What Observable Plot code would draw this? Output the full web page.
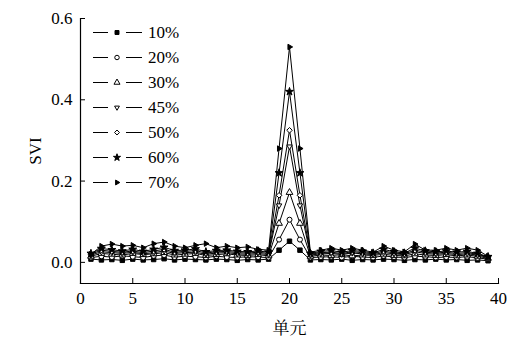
<!DOCTYPE html>
<html><head><meta charset="utf-8">
<script src="https://cdn.jsdelivr.net/npm/d3@7"></script>
<script src="https://cdn.jsdelivr.net/npm/@observablehq/plot@0.6"></script>
<style>
body{margin:0;background:#fff}
#chart{position:relative;width:507px;height:341px}
</style>
</head><body><div id="chart"></div>
<script>
const units = [1,2,3,4,5,6,7,8,9,10,11,12,13,14,15,16,17,18,19,20,21,22,23,24,25,26,27,28,29,30,31,32,33,34,35,36,37,38,39];
const seriesLabels = ["10%","20%","30%","45%","50%","60%","70%"];
const s10 = [0.008,0.006,0.007,0.005,0.008,0.006,0.007,0.009,0.006,0.008,0.007,0.006,0.008,0.007,0.005,0.007,0.006,0.008,0.030,0.052,0.030,0.006,0.007,0.006,0.008,0.005,0.007,0.006,0.008,0.007,0.005,0.007,0.006,0.008,0.006,0.007,0.005,0.006,0.004];
const s20 = [0.012,0.015,0.013,0.016,0.014,0.012,0.016,0.018,0.013,0.015,0.014,0.012,0.015,0.013,0.012,0.014,0.013,0.012,0.056,0.105,0.056,0.012,0.013,0.014,0.012,0.015,0.013,0.012,0.016,0.013,0.012,0.015,0.014,0.012,0.013,0.012,0.014,0.011,0.008];
const s30 = [0.015,0.022,0.020,0.018,0.022,0.019,0.021,0.024,0.018,0.020,0.022,0.017,0.019,0.021,0.018,0.017,0.019,0.016,0.096,0.172,0.096,0.015,0.018,0.017,0.019,0.016,0.018,0.017,0.020,0.017,0.016,0.021,0.018,0.017,0.019,0.016,0.018,0.015,0.010];
const s45 = [0.018,0.026,0.024,0.022,0.025,0.021,0.024,0.028,0.022,0.024,0.025,0.020,0.023,0.024,0.021,0.020,0.022,0.019,0.140,0.285,0.140,0.018,0.021,0.022,0.020,0.023,0.021,0.019,0.024,0.021,0.019,0.026,0.022,0.020,0.022,0.019,0.021,0.018,0.012];
const s50 = [0.020,0.030,0.027,0.025,0.028,0.024,0.028,0.032,0.025,0.027,0.029,0.023,0.026,0.027,0.024,0.023,0.025,0.022,0.165,0.325,0.165,0.020,0.024,0.025,0.022,0.026,0.024,0.021,0.028,0.023,0.021,0.030,0.025,0.023,0.025,0.022,0.024,0.020,0.013];
const s60 = [0.022,0.034,0.031,0.028,0.032,0.027,0.032,0.037,0.029,0.030,0.033,0.026,0.029,0.030,0.027,0.026,0.028,0.025,0.220,0.420,0.220,0.022,0.027,0.029,0.025,0.029,0.027,0.023,0.032,0.026,0.023,0.035,0.028,0.026,0.028,0.025,0.027,0.022,0.014];
const s70 = [0.020,0.040,0.045,0.040,0.042,0.036,0.046,0.050,0.040,0.036,0.042,0.046,0.036,0.040,0.036,0.038,0.032,0.030,0.280,0.530,0.280,0.025,0.030,0.035,0.030,0.035,0.030,0.025,0.040,0.030,0.026,0.045,0.030,0.030,0.035,0.030,0.035,0.030,0.015];
const xTicks = [0,5,10,15,20,25,30,35,40];
const yTicks = [0.0,0.2,0.4,0.6];

const seriesValues = [s10,s20,s30,s45,s50,s60,s70];

const triDown = {draw(ctx,size){const r=Math.sqrt(size/Math.PI)*1.25;ctx.moveTo(0,r);ctx.lineTo(-r*0.866,-r/2);ctx.lineTo(r*0.866,-r/2);ctx.closePath();}};
const triRight = {draw(ctx,size){const r=Math.sqrt(size/Math.PI)*1.25;ctx.moveTo(r,0);ctx.lineTo(-r/2,-r*0.866);ctx.lineTo(-r/2,r*0.866);ctx.closePath();}};
const symbolList = [d3.symbolSquare, d3.symbolCircle, d3.symbolTriangle, triDown, d3.symbolDiamond2, d3.symbolStar, triRight];
const filledList = [true,false,false,false,false,true,true];

const series = seriesLabels.map((s,i)=>units.map((u,j)=>({unit:u, value:seriesValues[i][j], s})));

const marks = [];
series.forEach((data,i)=>{
  marks.push(Plot.line(data,{x:"unit",y:"value",stroke:"#000",strokeWidth:1}));
});
series.forEach((data,i)=>{
  marks.push(Plot.dot(data,{x:"unit",y:"value",symbol:symbolList[i],r:2.5,fill:filledList[i]?"#000":"#fff",stroke:"#000",strokeWidth:1}));
});

const plot = Plot.plot({
  width:507, height:341,
  marginLeft:80, marginRight:9, marginTop:18, marginBottom:58,
  style:{fontSize:"17px", background:"#fff", color:"#000"},
  x:{domain:[0,40]},
  y:{domain:[-0.052,0.6]},
  marks:[
    Plot.frame({anchor:"left", stroke:"#000", strokeWidth:1.2}),
    Plot.frame({anchor:"bottom", stroke:"#000", strokeWidth:1.2}),
    Plot.axisX({ticks:xTicks, tickSize:5, dy:-5, text:null, label:null, stroke:"#000"}),
    Plot.axisX({ticks:xTicks, tickSize:0, tickPadding:8, tickFormat:d=>String(d), fontSize:17, label:"单元", labelAnchor:"center", labelOffset:50, labelArrow:false}),
    Plot.axisY({ticks:yTicks, tickSize:5, dx:5, text:null, label:null, stroke:"#000"}),
    Plot.axisY({ticks:yTicks, tickSize:0, tickPadding:8, tickFormat:d3.format(".1f"), fontSize:17, label:"SVI", labelAnchor:"center", labelOffset:52, labelArrow:false}),
    ...marks
  ]
});
document.getElementById("chart").appendChild(plot);

// legend
const svg = d3.select(plot);
const lg = svg.append("g").attr("font-size",17).attr("text-anchor","start");
seriesLabels.forEach((lab,i)=>{
  const cy = 32.5 + i*25;
  const g = lg.append("g").attr("transform",`translate(0,${cy})`);
  g.append("line").attr("x1",93).attr("x2",108).attr("y1",0).attr("y2",0).attr("stroke","#000");
  g.append("line").attr("x1",126).attr("x2",142).attr("y1",0).attr("y2",0).attr("stroke","#000");
  g.append("path").attr("d",d3.symbol(symbolList[i], Math.PI*5)()).attr("transform","translate(117,0)")
    .attr("fill",filledList[i]?"#000":"#fff").attr("stroke","#000");
  g.append("text").attr("x",148).attr("y",0).attr("dy","0.35em").text(lab);
});
// apply serif font directly on every text element
svg.selectAll("text").each(function(){
  const t = d3.select(this);
  const cjk = /[\u4e00-\u9fff]/.test(this.textContent);
  const fam = cjk ? "Noto Serif CJK SC" : "Liberation Serif";
  t.attr("font-family", fam).style("font-family", fam);
  t.selectAll("tspan").attr("font-family", fam).style("font-family", fam);
});
</script>
</body></html>
